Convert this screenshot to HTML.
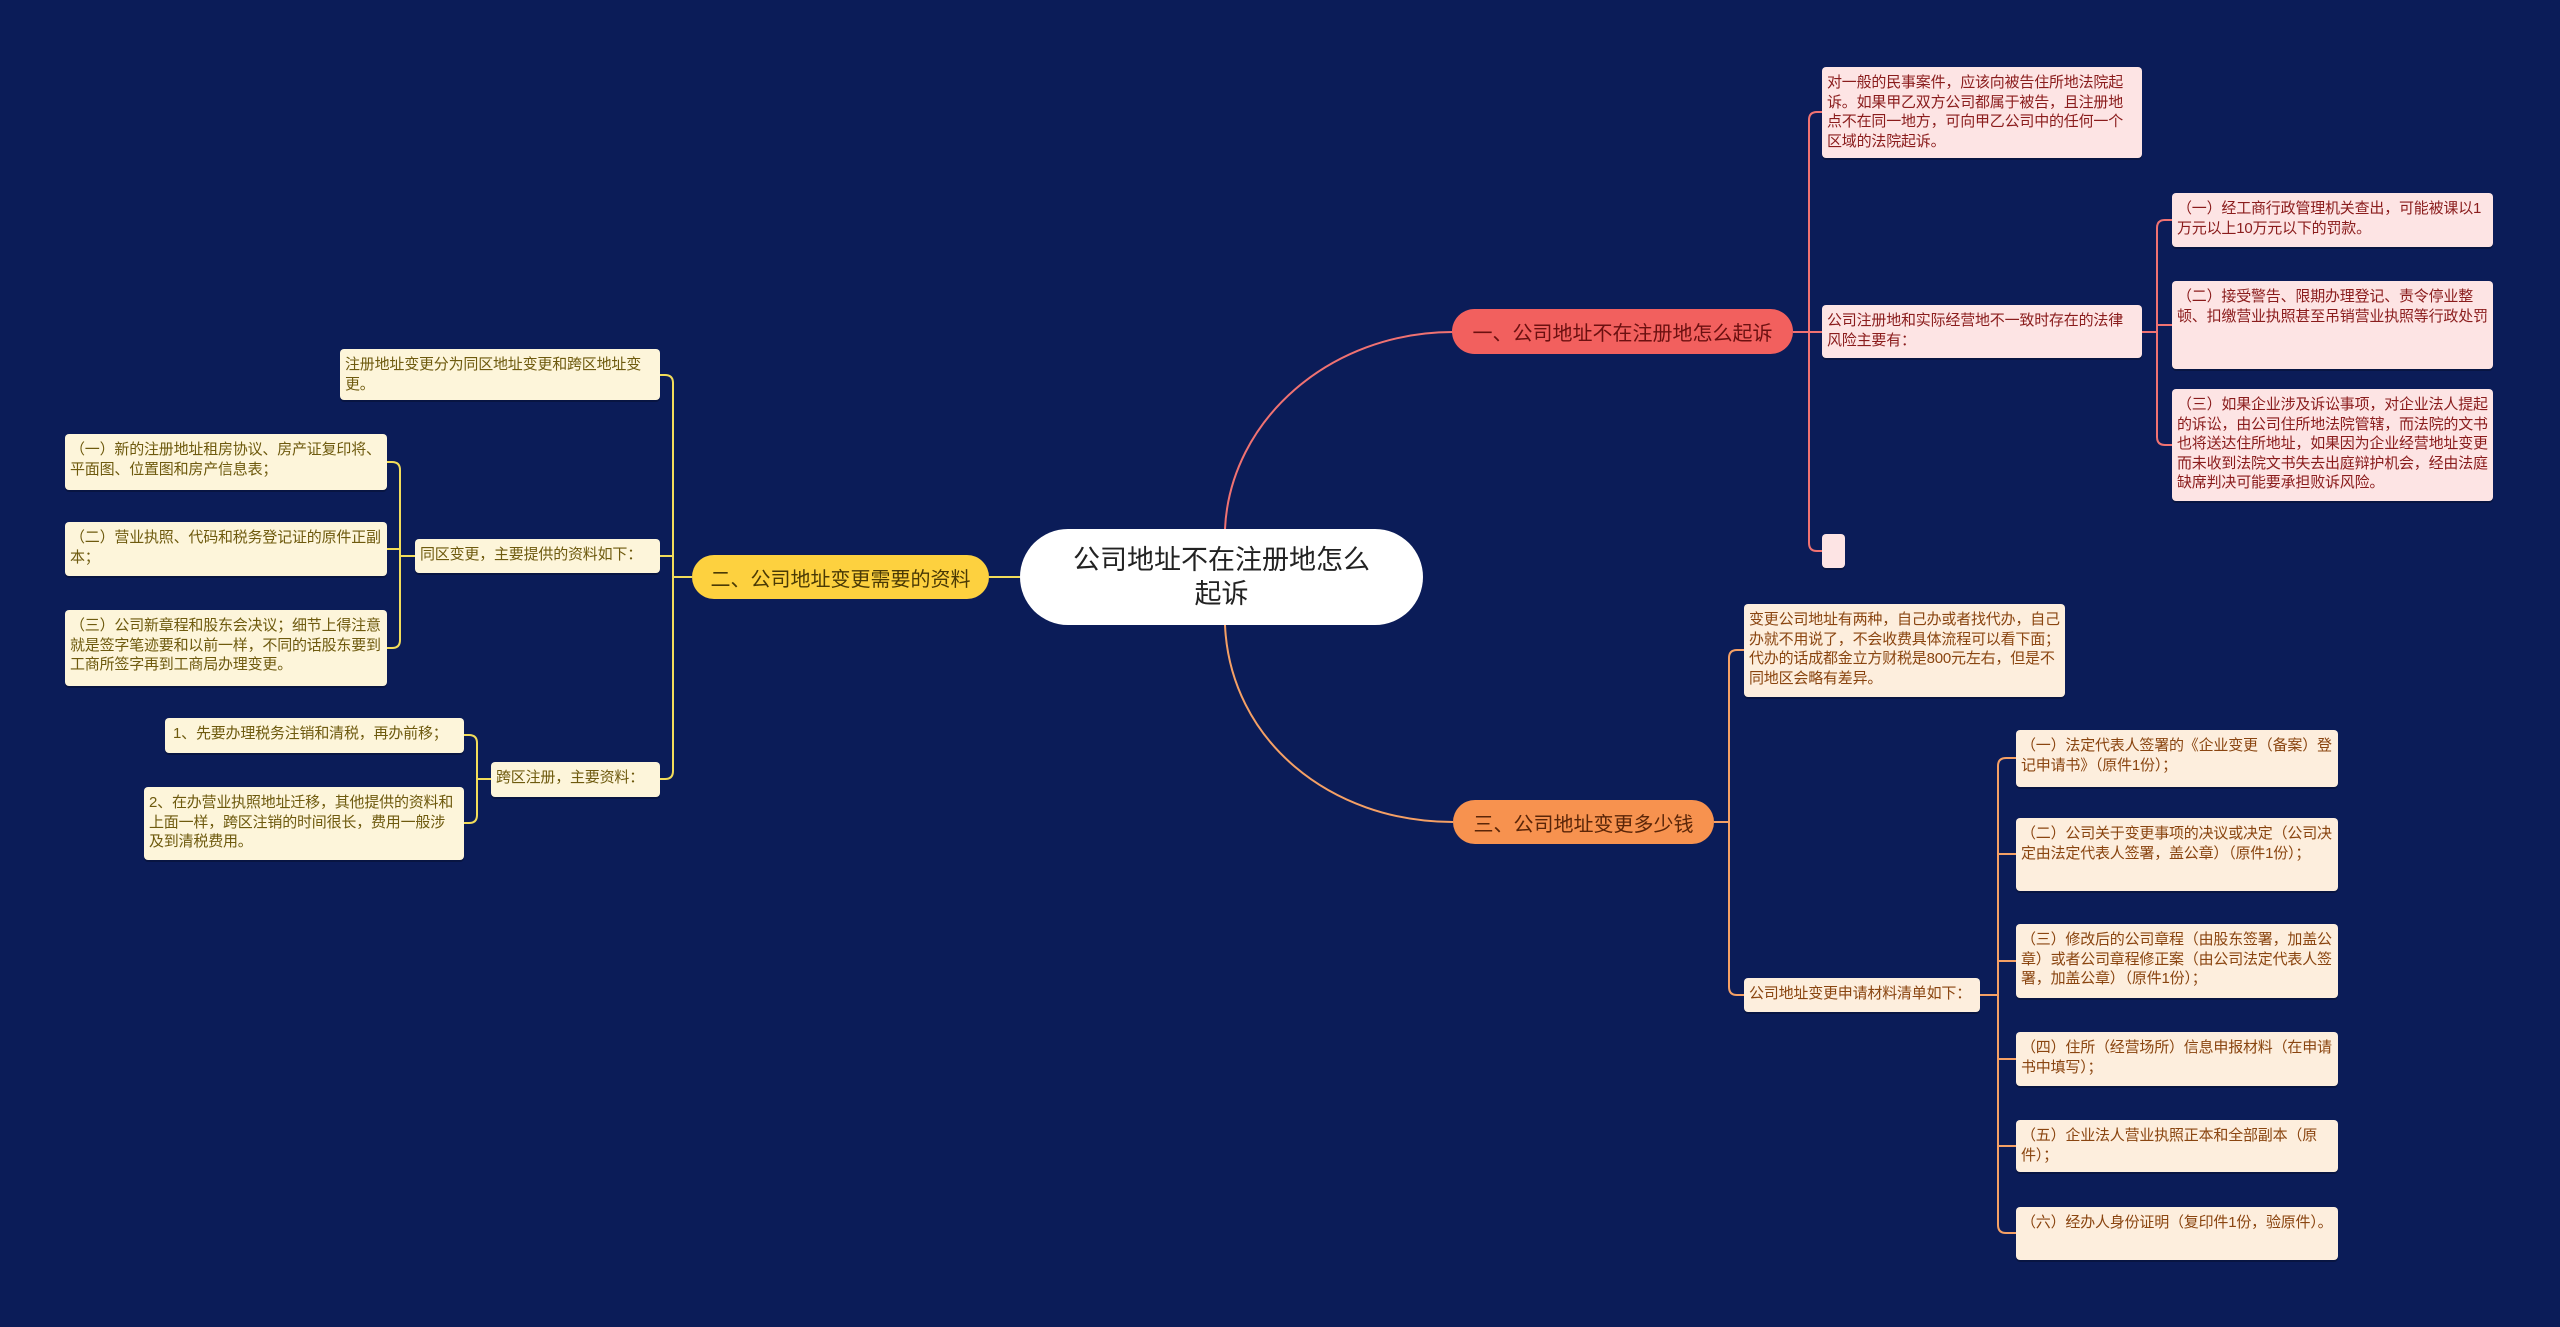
<!DOCTYPE html>
<html><head><meta charset="utf-8"><style>
html,body{margin:0;padding:0}
body{width:2560px;height:1327px;background:#0b1c58;position:relative;overflow:hidden;font-family:"Liberation Sans","Noto Sans CJK SC",sans-serif}
.n{position:absolute;box-sizing:border-box;font-size:15px;line-height:19.5px;padding:6px 5px;border-radius:4px;box-shadow:0 2px 0 rgba(0,0,0,0.25);word-break:break-all;letter-spacing:-0.2px}
.p{background:#fde4e4;color:#8a1c1c}
.o{background:#fdeedd;color:#8a4510}
.y{background:#fdf5da;color:#6e5a0e}
.b{position:absolute;box-sizing:border-box;border-radius:24px;font-size:20px;display:flex;align-items:center;justify-content:center}
svg{position:absolute;left:0;top:0}
</style></head><body>
<svg width="2560" height="1327" fill="none" stroke-width="2">
<g stroke="#f07272">
<path d="M1225 529 C1230 420,1330 332,1453 332"/>
<path d="M1793 332 H1822 M1809 332 V120 Q1809 112 1817 112 H1822 M1809 332 V543 Q1809 551 1817 551 H1822"/>
<path d="M2142 332 H2157 M2157 332 V228 Q2157 220 2165 220 H2172 M2157 325 H2172 M2157 332 V437 Q2157 445 2165 445 H2172"/>
</g>
<g stroke="#f5a065">
<path d="M1225 625 C1230 740,1330 822,1453 822"/>
<path d="M1714 822 H1729 M1729 822 V658 Q1729 650 1737 650 H1744 M1729 822 V987 Q1729 995 1737 995 H1744"/>
<path d="M1980 995 H1998 M1998 995 V766 Q1998 758 2006 758 H2016 M1998 995 V1225 Q1998 1233 2006 1233 H2016 M1998 854 H2016 M1998 961 H2016 M1998 1059 H2016 M1998 1146 H2016"/>
</g>
<g stroke="#f2dc5a">
<path d="M1020 577 H989"/>
<path d="M692 577 H673 M673 577 V383 Q673 375 665 375 H660 M673 577 V771 Q673 779 665 779 H660 M673 556 H660"/>
<path d="M415 556 H400 M400 556 V470 Q400 462 392 462 H387 M400 556 V640 Q400 648 392 648 H387 M400 549 H387"/>
<path d="M491 779 H477 M477 779 V743 Q477 735 469 735 H464 M477 779 V815 Q477 823 469 823 H464"/>
</g>
</svg>

<div class="b" style="left:1020px;top:529px;width:403px;height:96px;background:#fff;border-radius:48px;color:#222;font-size:27px;line-height:34px;text-align:center">公司地址不在注册地怎么<br>起诉</div>

<div class="b" style="left:1452px;top:309px;width:341px;height:45px;background:#f2605e;color:#6b1010">一、公司地址不在注册地怎么起诉</div>
<div class="b" style="left:1453px;top:800px;width:261px;height:44px;background:#f7924f;color:#5a2508">三、公司地址变更多少钱</div>
<div class="b" style="left:692px;top:555px;width:297px;height:44px;background:#fdd13f;color:#4a3a05">二、公司地址变更需要的资料</div>

<div class="n p" style="left:1822px;top:67px;width:320px;height:91px">对一般的民事案件，应该向被告住所地法院起诉。如果甲乙双方公司都属于被告，且注册地点不在同一地方，可向甲乙公司中的任何一个区域的法院起诉。</div>
<div class="n p" style="left:1822px;top:305px;width:320px;height:53px">公司注册地和实际经营地不一致时存在的法律风险主要有：</div>
<div class="n p" style="left:1822px;top:534px;width:23px;height:34px"></div>
<div class="n p" style="left:2172px;top:193px;width:321px;height:54px">（一）经工商行政管理机关查出，可能被课以1万元以上10万元以下的罚款。</div>
<div class="n p" style="left:2172px;top:281px;width:321px;height:88px">（二）接受警告、限期办理登记、责令停业整顿、扣缴营业执照甚至吊销营业执照等行政处罚</div>
<div class="n p" style="left:2172px;top:389px;width:321px;height:112px">（三）如果企业涉及诉讼事项，对企业法人提起的诉讼，由公司住所地法院管辖，而法院的文书也将送达住所地址，如果因为企业经营地址变更而未收到法院文书失去出庭辩护机会，经由法庭缺席判决可能要承担败诉风险。</div>

<div class="n o" style="left:1744px;top:604px;width:321px;height:93px">变更公司地址有两种，自己办或者找代办，自己办就不用说了，不会收费具体流程可以看下面；代办的话成都金立方财税是800元左右，但是不同地区会略有差异。</div>
<div class="n o" style="left:1744px;top:978px;width:236px;height:34px">公司地址变更申请材料清单如下：</div>
<div class="n o" style="left:2016px;top:730px;width:322px;height:57px">（一）法定代表人签署的《企业变更（备案）登记申请书》（原件1份）；</div>
<div class="n o" style="left:2016px;top:818px;width:322px;height:73px">（二）公司关于变更事项的决议或决定（公司决定由法定代表人签署，盖公章）（原件1份）；</div>
<div class="n o" style="left:2016px;top:924px;width:322px;height:74px">（三）修改后的公司章程（由股东签署，加盖公章）或者公司章程修正案（由公司法定代表人签署，加盖公章）（原件1份）；</div>
<div class="n o" style="left:2016px;top:1032px;width:322px;height:54px">（四）住所（经营场所）信息申报材料（在申请书中填写）；</div>
<div class="n o" style="left:2016px;top:1120px;width:322px;height:52px">（五）企业法人营业执照正本和全部副本（原件）；</div>
<div class="n o" style="left:2016px;top:1207px;width:322px;height:53px">（六）经办人身份证明（复印件1份，验原件）。</div>

<div class="n y" style="left:340px;top:349px;width:320px;height:51px">注册地址变更分为同区地址变更和跨区地址变更。</div>
<div class="n y" style="left:415px;top:539px;width:245px;height:34px;white-space:nowrap">同区变更，主要提供的资料如下：</div>
<div class="n y" style="left:491px;top:762px;width:169px;height:35px;white-space:nowrap">跨区注册，主要资料：</div>
<div class="n y" style="left:65px;top:434px;width:322px;height:56px">（一）新的注册地址租房协议、房产证复印将、平面图、位置图和房产信息表；</div>
<div class="n y" style="left:65px;top:522px;width:322px;height:54px">（二）营业执照、代码和税务登记证的原件正副本；</div>
<div class="n y" style="left:65px;top:610px;width:322px;height:76px">（三）公司新章程和股东会决议；细节上得注意就是签字笔迹要和以前一样，不同的话股东要到工商所签字再到工商局办理变更。</div>
<div class="n y" style="left:165px;top:718px;width:299px;height:35px;padding-left:8px;white-space:nowrap">1、先要办理税务注销和清税，再办前移；</div>
<div class="n y" style="left:144px;top:787px;width:320px;height:73px">2、在办营业执照地址迁移，其他提供的资料和上面一样，跨区注销的时间很长，费用一般涉及到清税费用。</div>
</body></html>
